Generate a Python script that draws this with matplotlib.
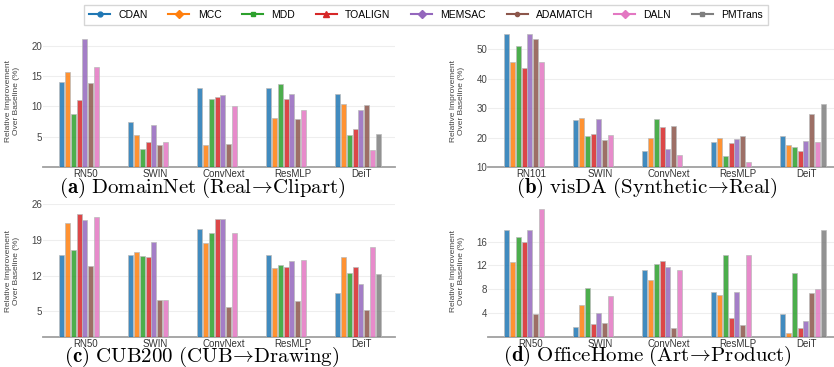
import numpy as np
import matplotlib
matplotlib.use("Agg")
import matplotlib.pyplot as plt
from matplotlib.lines import Line2D

plt.rcParams['font.family'] = ['Liberation Sans', 'DejaVu Sans']
plt.rcParams['mathtext.fontset'] = 'cm'

methods = ["CDAN", "MCC", "MDD", "TOALIGN", "MEMSAC", "ADAMATCH", "DALN", "PMTrans"]
colors = ["#1f77b4", "#ff7f0e", "#2ca02c", "#d62728", "#9467bd", "#8c564b", "#e377c2", "#7f7f7f"]
markers = ["o", "D", "s", "^", "D", "o", "D", "s"]
msizes = [3.5, 4, 3.5, 5, 4, 3, 4.5, 3.5]

backbones_a = ["RN50", "SWIN", "ConvNext", "ResMLP", "DeiT"]
backbones_b = ["RN101", "SWIN", "ConvNext", "ResMLP", "DeiT"]
nan = np.nan

# rows: methods, columns: backbones
domainnet = {
    "CDAN":     [14.0, 7.35, 13.05, 13.05, 12.1],
    "MCC":      [15.7, 5.33, 3.69, 8.12, 10.4],
    "MDD":      [8.7, 2.92, 11.24, 13.7, 5.22],
    "TOALIGN":  [11.1, 4.18, 11.57, 11.13, 6.2],
    "MEMSAC":   [21.0, 6.97, 11.84, 12.1, 9.33],
    "ADAMATCH": [13.9, 3.69, 3.85, 7.9, 10.15],
    "DALN":     [16.5, 4.18, 9.98, 9.43, 2.87],
    "PMTrans":  [nan, nan, nan, nan, 5.44],
}
visda = {
    "CDAN":     [55.2, 26.0, 15.5, 18.5, 20.6],
    "MCC":      [45.7, 26.6, 19.8, 19.7, 17.6],
    "MDD":      [51.1, 20.4, 26.4, 13.8, 16.9],
    "TOALIGN":  [43.6, 21.3, 23.7, 18.2, 15.4],
    "MEMSAC":   [55.2, 26.3, 16.2, 19.5, 19.0],
    "ADAMATCH": [53.4, 19.3, 23.8, 20.6, 28.1],
    "DALN":     [45.8, 20.9, 14.2, 11.8, 18.5],
    "PMTrans":  [nan, nan, nan, nan, 31.5],
}
cub = {
    "CDAN":     [16.1, 16.0, 21.1, 16.1, 8.6],
    "MCC":      [22.2, 16.7, 18.4, 13.4, 15.7],
    "MDD":      [17.1, 15.8, 20.4, 14.1, 12.6],
    "TOALIGN":  [24.1, 15.6, 23.0, 13.6, 13.6],
    "MEMSAC":   [22.8, 18.5, 23.1, 14.9, 10.3],
    "ADAMATCH": [13.8, 7.2, 5.9, 7.1, 5.3],
    "DALN":     [23.5, 7.2, 20.4, 15.1, 17.6],
    "PMTrans":  [nan, nan, nan, nan, 12.4],
}
officehome = {
    "CDAN":     [17.9, 1.6, 11.3, 7.5, 3.85],
    "MCC":      [12.5, 5.3, 9.5, 7.05, 0.7],
    "MDD":      [16.8, 8.2, 12.3, 13.7, 10.7],
    "TOALIGN":  [15.9, 2.2, 12.7, 3.2, 1.55],
    "MEMSAC":   [17.9, 4.05, 11.7, 7.5, 2.7],
    "ADAMATCH": [3.9, 2.4, 1.5, 2.05, 7.3],
    "DALN":     [21.4, 6.8, 11.3, 13.7, 8.05],
    "PMTrans":  [nan, nan, nan, nan, 17.9],
}

panels = [
    (domainnet, backbones_a, (0, 21.9), [5, 10, 15, 20],
     r'$\mathbf{(a)}\ \mathrm{DomainNet\ (Real}\!\rightarrow\!\mathrm{Clipart)}$'),
    (visda, backbones_b, (10, 55.2), [10, 20, 30, 40, 50],
     r'$\mathbf{(b)}\ \mathrm{visDA\ (Synthetic}\!\rightarrow\!\mathrm{Real)}$'),
    (cub, backbones_a, (0, 26), [5, 12, 19, 26],
     r'$\mathbf{(c)}\ \mathrm{CUB200\ (CUB}\!\rightarrow\!\mathrm{Drawing)}$'),
    (officehome, backbones_a, (0, 22.3), [4, 8, 12, 16],
     r'$\mathbf{(d)}\ \mathrm{OfficeHome\ (Art}\!\rightarrow\!\mathrm{Product)}$'),
]

W, H = 834, 367
fig = plt.figure(figsize=(W / 100, H / 100), dpi=100)

ax_px = [(43, 34), (488, 34), (43, 204), (488, 204)]  # left, top in px
aw, ah = 352, 133
title_pos = [(202, 192.5), (647, 192.5), (202, 361.5), (647, 361)]

pitch = 0.084
bw = 0.074
for k, (data, cats, ylim, yt, title) in enumerate(panels):
    l, t = ax_px[k]
    ax = fig.add_axes([l / W, (H - t - ah) / H, aw / W, ah / H])
    x = np.arange(len(cats))
    for j, m in enumerate(methods):
        vals = np.array(data[m], dtype=float)
        ax.bar(x + (j - 3.5) * pitch, vals, width=bw, color=colors[j], alpha=0.85,
               edgecolor="#bbbbbb", linewidth=0.6, zorder=3)
    ax.set_xlim(-0.565, 4.536)
    ax.set_ylim(*ylim)
    ax.set_yticks(yt)
    ax.set_xticks(x + 0.055)
    ax.set_xticklabels(cats)
    ax.tick_params(axis='both', length=0, labelsize=7)
    ax.tick_params(axis='x', pad=1.5, labelcolor="#333333")
    ax.tick_params(axis='y', pad=0.5, labelcolor="#444444")
    ax.yaxis.grid(True, color="#eeeeee", linewidth=0.8, zorder=0)
    ax.set_axisbelow(True)
    for s in ["left", "right", "top"]:
        ax.spines[s].set_visible(False)
    ax.spines["bottom"].set_color("#a0a0a0")
    ax.spines["bottom"].set_linewidth(1.3)
    ax.set_ylabel("Relative Improvement\nOver Baseline (%)", fontsize=6,
                  color="#444444", linespacing=1.2)
    ax.yaxis.set_label_coords(-23 / aw, 0.5)
    tx, ty = title_pos[k]
    fig.text(tx / W, (H - ty) / H, title, fontsize=15, ha='center', va='baseline')

handles = [Line2D([0], [0], color=colors[j], marker=markers[j], markersize=msizes[j],
                  linewidth=1.5) for j in range(len(methods))]
fig.legend(handles, methods, loc='center', bbox_to_anchor=(426 / W, (H - 15) / H),
           ncol=8, fontsize=7.5, frameon=True, edgecolor="#cccccc", fancybox=False,
           borderpad=0.5)

fig.savefig("out.png", dpi=100)
